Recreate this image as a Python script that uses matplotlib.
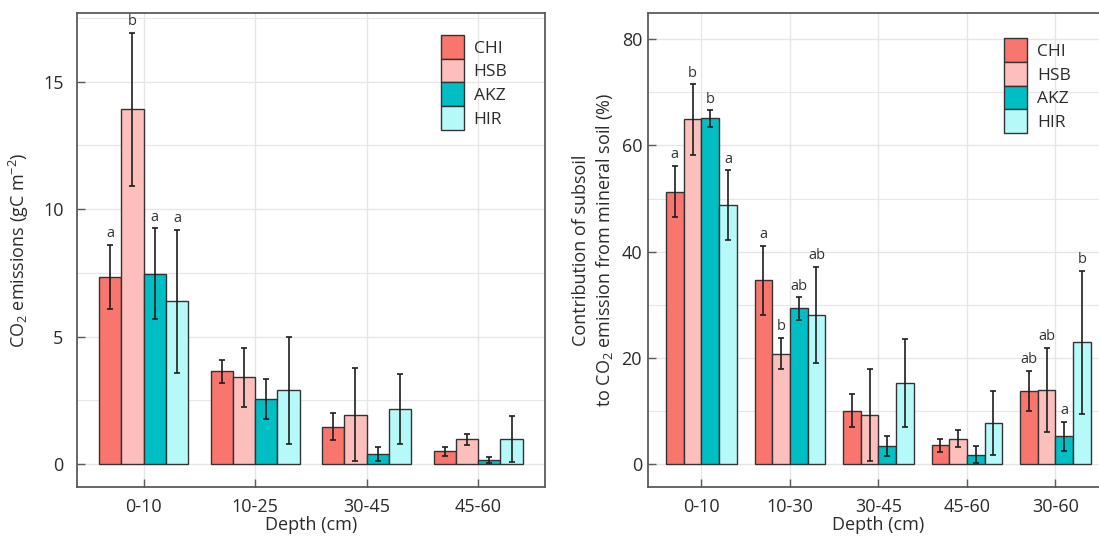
import matplotlib
matplotlib.use("Agg")
import matplotlib.pyplot as plt
from matplotlib.patches import Patch
from matplotlib.ticker import MultipleLocator
import numpy as np

plt.rcParams['font.family'] = ['Open Sans', 'DejaVu Sans']
plt.rcParams['mathtext.fontset'] = 'custom'
plt.rcParams['mathtext.rm'] = 'Open Sans'
plt.rcParams['mathtext.default'] = 'regular'

# ---------------- data ----------------
sites = ['CHI', 'HSB', 'AKZ', 'HIR']
colors = ['#F8766D', '#FDBFBB', '#00BFC4', '#B6F9F9']

depth_left = ['0-10', '10-25', '30-45', '45-60']
em_CHI = [7.34, 3.64, 1.47, 0.50]
em_HSB = [13.92, 3.40, 1.94, 0.97]
em_AKZ = [7.46, 2.55, 0.40, 0.16]
em_HIR = [6.38, 2.89, 2.16, 0.98]
em_err_CHI = [1.27, 0.45, 0.52, 0.18]
em_err_HSB = [3.00, 1.15, 1.82, 0.21]
em_err_AKZ = [1.78, 0.77, 0.27, 0.12]
em_err_HIR = [2.80, 2.09, 1.36, 0.90]
em_let_CHI = ['a', '', '', '']
em_let_HSB = ['b', '', '', '']
em_let_AKZ = ['a', '', '', '']
em_let_HIR = ['a', '', '', '']

depth_right = ['0-10', '10-30', '30-45', '45-60', '30-60']
ct_CHI = [51.3, 34.6, 10.0, 3.5, 13.7]
ct_HSB = [64.9, 20.8, 9.2, 4.8, 14.0]
ct_AKZ = [65.1, 29.3, 3.4, 1.7, 5.2]
ct_HIR = [48.7, 28.1, 15.3, 7.7, 22.9]
ct_err_CHI = [4.85, 6.55, 3.1, 1.2, 3.8]
ct_err_HSB = [6.65, 2.95, 8.65, 1.6, 7.9]
ct_err_AKZ = [1.55, 2.1, 1.95, 1.6, 2.7]
ct_err_HIR = [6.6, 9.0, 8.25, 6.0, 13.5]
ct_let_CHI = ['a', 'a', '', '', 'ab']
ct_let_HSB = ['b', 'b', '', '', 'ab']
ct_let_AKZ = ['b', 'ab', '', '', 'a']
ct_let_HIR = ['a', 'ab', '', '', 'b']

# ---------------- figure ----------------
W, H = 1099, 538
fig = plt.figure(figsize=(W / 100, H / 100), dpi=100)

def frac(l, t, r, b):
    return [l / W, 1 - b / H, (r - l) / W, (b - t) / H]

axL = fig.add_axes(frac(76.7, 13.3, 545.0, 486.7))
axR = fig.add_axes(frac(648.3, 13.3, 1108.5, 486.7))

spine_col = '#5a5a5a'
grid_col = '#E6E6E6'
txt_col = '#2b2b2b'


def draw(ax, cats, vals, errs, lets, ylim, major, minor, tickpad, ylabel, lab_x):
    x = np.arange(len(cats))
    w = 0.2
    for i, (v, e, lt, c) in enumerate(zip(vals, errs, lets, colors)):
        pos = x + (i - 1.5) * w
        ax.bar(pos, v, width=w, color=c, edgecolor='#333333', linewidth=1.0,
               yerr=e, capsize=2.2,
               error_kw=dict(elinewidth=1.2, capthick=1.2, ecolor='#1e1e1e'),
               zorder=3)
        for p, vv, ee, s in zip(pos, v, e, lt):
            if s:
                ax.annotate(s, (p, vv + ee), xytext=(0, 5.5),
                            textcoords='offset points', ha='center',
                            va='baseline', fontsize=10.5, color='#333333',
                            zorder=4)
    ax.set_xlim(-0.6, len(cats) - 0.4)
    ax.set_ylim(*ylim)
    ax.set_xticks(x)
    ax.set_xticklabels(cats)
    ax.yaxis.set_major_locator(MultipleLocator(major))
    ax.yaxis.set_minor_locator(MultipleLocator(minor))
    ax.grid(True, which='major', color=grid_col, linewidth=1.0, zorder=0)
    ax.grid(True, which='minor', axis='y', color=grid_col, linewidth=0.8,
            zorder=0)
    ax.set_axisbelow(True)
    ax.tick_params(axis='both', which='major', direction='in', length=6,
                   width=1.0, color=spine_col, labelsize=13,
                   labelcolor=txt_col)
    ax.tick_params(axis='y', which='major', pad=tickpad)
    ax.tick_params(axis='x', which='major', pad=8)
    ax.tick_params(axis='y', which='minor', length=0)
    for sp in ax.spines.values():
        sp.set_color(spine_col)
        sp.set_linewidth(1.3)
    ax.set_xlabel('Depth (cm)', fontsize=13, color=txt_col, labelpad=0)
    ax.set_ylabel(ylabel, fontsize=13, color=txt_col, linespacing=1.25)
    ax.yaxis.set_label_coords(lab_x, 0.5)
    ax.set_facecolor('white')


draw(axL, depth_left,
     [em_CHI, em_HSB, em_AKZ, em_HIR],
     [em_err_CHI, em_err_HSB, em_err_AKZ, em_err_HIR],
     [em_let_CHI, em_let_HSB, em_let_AKZ, em_let_HIR],
     (-0.89, 17.68), 5, 2.5, 9.5,
     r'CO$_2$ emissions (gC m$^{-2}$)', -0.098)

draw(axR, depth_right,
     [ct_CHI, ct_HSB, ct_AKZ, ct_HIR],
     [ct_err_CHI, ct_err_HSB, ct_err_AKZ, ct_err_HIR],
     [ct_let_CHI, ct_let_HSB, ct_let_AKZ, ct_let_HIR],
     (-4.28, 84.9), 20, 10, 4.5,
     'Contribution of subsoil\n' + r'to CO$_2$ emission from mineral soil (%)',
     -0.072)

handles = [Patch(facecolor=c, edgecolor='#333333', linewidth=1.0) for c in colors]
for ax, anchor in ((axL, (0.777, 0.954)), (axR, (0.773, 0.947))):
    ax.legend(handles, sites, loc='upper left', bbox_to_anchor=anchor,
              frameon=False, fontsize=12.5, borderpad=0, borderaxespad=0,
              handlelength=1.35, handleheight=1.72, labelspacing=0.0,
              handletextpad=0.55, labelcolor=txt_col)

fig.savefig('out.png', dpi=100, facecolor='white')
